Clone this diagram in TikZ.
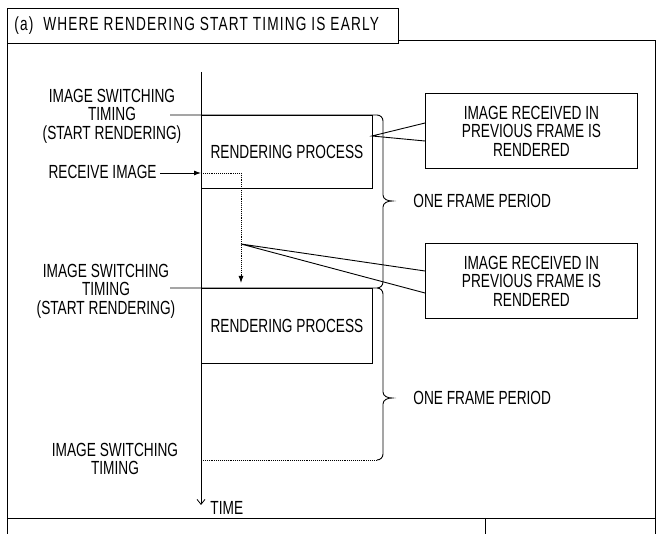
\documentclass[tikz,border=0pt]{standalone}
\usepackage{fontspec}
\setmainfont{Liberation Sans}[FakeStretch=0.72]
\usetikzlibrary{arrows.meta}
\begin{document}
\begin{tikzpicture}[x=1pt,y=-1pt,line width=0.9pt,
 lbl/.style={font=\fontsize{19}{18.5}\selectfont,align=center,inner sep=0pt},
 box/.style={draw,minimum width=212pt,minimum height=75pt,anchor=north west,lbl},
 rbox/.style={draw,anchor=north west,minimum width=171pt,lbl}]
\useasboundingbox (0,0) rectangle (662,534);
\draw (7,40) -- (7,534) (7,40) -- (655,40) -- (655,534);
\draw (7,518) -- (655,518) (485,518) -- (485,534);
\node[draw,fill=white,anchor=north west,minimum width=391pt,minimum height=35pt,lbl] (title) at (7,8) {};
\node[lbl,anchor=west,font=\fontsize{19}{18}\selectfont\addfontfeature{LetterSpace=6}] at (14,26) {(a)\ \ WHERE RENDERING START TIMING IS EARLY};
% axis
\coordinate (a0) at (201,72); \coordinate (a1) at (201,505);
\draw[-{Straight Barb[length=5pt,width=8pt]},line width=0.8pt] (a0) -- (a1);
\node[lbl,anchor=west] (time) at (210,508) {TIME};
% boxes
\node[rbox,minimum height=73pt] (r1) at (201,115) {RENDERING PROCESS};
\node[rbox,minimum height=75pt] (r2) at (201,288) {RENDERING PROCESS};
% horizontals and braces
\draw (170,115) -- (377,115) to[out=0,in=90] (383,121) -- (383,195) to[out=-90,in=180] (392,201) to[out=180,in=90] (383,207) -- (383,282) to[out=-90,in=0] (377,288) (170,288) -- (377,288) to[out=0,in=90] (383,294) -- (383,392) to[out=-90,in=180] (392,398) to[out=180,in=90] (383,404) -- (383,454) to[out=-90,in=0] (377,460);
\draw[densely dotted] (201,460) -- (377,460);
\node[lbl,anchor=west] (p1) at (413,201) {ONE FRAME PERIOD};
\node[lbl,anchor=west] (p2) at (413,398) {ONE FRAME PERIOD};
% labels
\node[lbl] (l1) at (112,116) {IMAGE SWITCHING\\TIMING\\(START RENDERING)};
\node[lbl] (l2) at (106,291) {IMAGE SWITCHING\\TIMING\\(START RENDERING)};
\node[lbl] (l3) at (115,459) {IMAGE SWITCHING\\TIMING};
\node[lbl,anchor=east] (recv) at (157,172) {RECEIVE IMAGE};
\coordinate (rc) at (201,173);
\draw[-{Latex[length=7pt,width=5pt]}] ([xshift=3pt]recv.east|-rc) -- (rc);
\draw[densely dotted,-{Latex[length=7pt,width=5pt]}] (rc) -- (241,173) -- (241,283);
% callouts
\node[box,lbl] (c1) at (425,93) {IMAGE RECEIVED IN\\PREVIOUS FRAME IS\\RENDERED};
\node[box,lbl] (c2) at (425,243) {IMAGE RECEIVED IN\\PREVIOUS FRAME IS\\RENDERED};
\coordinate (t1) at (372,136); \coordinate (t2) at (241,244);
\draw (c1.north west|-0,123) -- (t1) -- (c1.north west|-0,141);
\draw (c2.north west|-0,271) -- (t2) -- (c2.north west|-0,293);
\end{tikzpicture}
\end{document}
